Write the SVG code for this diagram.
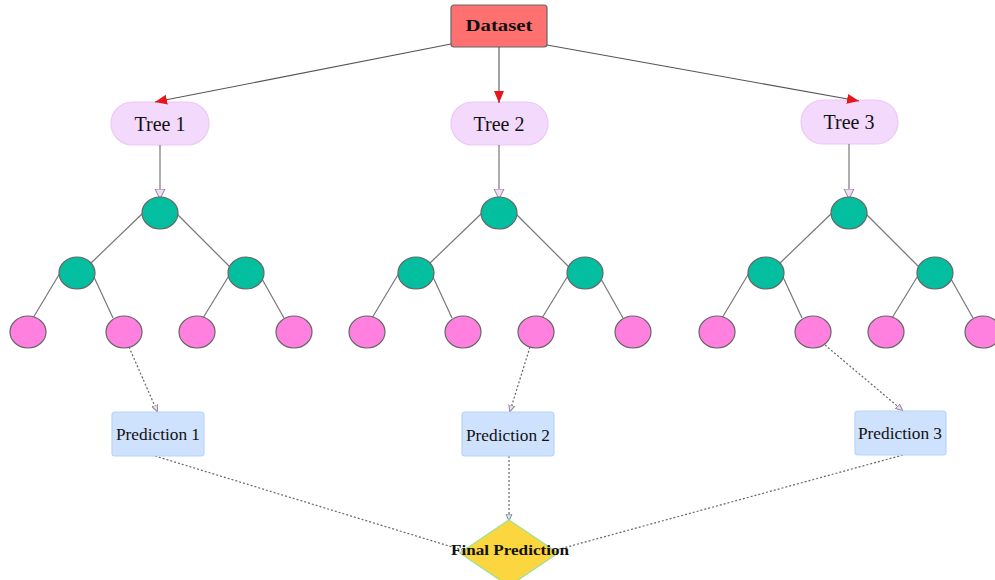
<svg xmlns="http://www.w3.org/2000/svg" width="995" height="580" viewBox="0 0 995 580">
<defs>
<style>
.tree rect{fill:#f3d9fb;stroke:#ecc8f6;stroke-width:1.2}
.inner{fill:#03bfa0;stroke:#666;stroke-width:1.2}
.leaf{fill:#ff80df;stroke:#666;stroke-width:1.2}
.pred rect{fill:#cfe2fd;stroke:#b7d4fa;stroke-width:1.2}
.lbl{font-family:"Liberation Serif",serif;fill:#111;text-anchor:middle}
.edge{stroke:#777;stroke-width:1.2;fill:none}
.main{stroke:#555;stroke-width:1.1;fill:none}
.dot{stroke:#666;stroke-width:1.2;fill:none;stroke-dasharray:2 2}
</style>
<marker id="red" markerWidth="14" markerHeight="12" refX="12" refY="6" orient="auto" markerUnits="userSpaceOnUse">
<path d="M0,1 L12,6 L0,11 Z" fill="#e8161a"/>
</marker>
<marker id="hollow" markerWidth="12" markerHeight="12" refX="10" refY="6" orient="auto" markerUnits="userSpaceOnUse">
<path d="M0,1 L10,6 L0,11 Z" fill="#f3d9fb" stroke="#888" stroke-width="1"/>
</marker>
<marker id="small" markerWidth="8" markerHeight="8" refX="6" refY="4" orient="auto" markerUnits="userSpaceOnUse">
<path d="M0,1 L7,4 L0,7 Z" fill="#f3d9fb" stroke="#888" stroke-width="1"/>
</marker>
<marker id="smallb" markerWidth="8" markerHeight="8" refX="6" refY="4" orient="auto" markerUnits="userSpaceOnUse">
<path d="M0,1 L7,4 L0,7 Z" fill="#cfe2fd" stroke="#888" stroke-width="1"/>
</marker>
</defs>
<rect width="995" height="580" fill="#fff"/>
<g id="dataset">
<rect x="451" y="5" width="96" height="42" rx="3" fill="#ff7070" stroke="#666" stroke-width="1.2"/>
<text class="lbl" x="499" y="31" font-size="16" font-weight="bold" textLength="67" lengthAdjust="spacingAndGlyphs">Dataset</text>
</g>
<g id="tree1" class="tree">
<rect x="111" y="102" width="98" height="43" rx="21.5"/>
<text class="lbl" x="160" y="131" font-size="20">Tree 1</text>
</g>
<g id="tree2" class="tree">
<rect x="451" y="102" width="97" height="43" rx="21.5"/>
<text class="lbl" x="499" y="131" font-size="20">Tree 2</text>
</g>
<g id="tree3" class="tree">
<rect x="801" y="100" width="97" height="44" rx="22"/>
<text class="lbl" x="849" y="129" font-size="20">Tree 3</text>
</g>
<g id="connectors">
<line class="main" x1="451" y1="44" x2="155" y2="102" marker-end="url(#red)"/>
<line class="main" x1="499" y1="47" x2="499" y2="103" marker-end="url(#red)"/>
<line class="main" x1="547" y1="45" x2="859" y2="101" marker-end="url(#red)"/>
<line class="edge" x1="160" y1="145" x2="160" y2="199" marker-end="url(#hollow)"/>
<line class="edge" x1="499" y1="145" x2="499" y2="199" marker-end="url(#hollow)"/>
<line class="edge" x1="849" y1="144" x2="849" y2="199" marker-end="url(#hollow)"/>
<g>
<line class="edge" x1="143" y1="213" x2="90" y2="264"/>
<line class="edge" x1="177" y1="214" x2="232" y2="269"/>
<line class="edge" x1="60" y1="273" x2="33" y2="318"/>
<line class="edge" x1="94" y1="277" x2="113" y2="318"/>
<line class="edge" x1="230" y1="274" x2="203" y2="318"/>
<line class="edge" x1="262" y1="279" x2="284" y2="318"/>
</g>
<g transform="translate(339,0)">
<line class="edge" x1="143" y1="213" x2="90" y2="264"/>
<line class="edge" x1="177" y1="214" x2="232" y2="269"/>
<line class="edge" x1="60" y1="273" x2="33" y2="318"/>
<line class="edge" x1="94" y1="277" x2="113" y2="318"/>
<line class="edge" x1="230" y1="274" x2="203" y2="318"/>
<line class="edge" x1="262" y1="279" x2="284" y2="318"/>
</g>
<g transform="translate(689,0)">
<line class="edge" x1="143" y1="213" x2="90" y2="264"/>
<line class="edge" x1="177" y1="214" x2="232" y2="269"/>
<line class="edge" x1="60" y1="273" x2="33" y2="318"/>
<line class="edge" x1="94" y1="277" x2="113" y2="318"/>
<line class="edge" x1="230" y1="274" x2="203" y2="318"/>
<line class="edge" x1="262" y1="279" x2="284" y2="318"/>
</g>
<line class="dot" x1="129" y1="347" x2="157" y2="411" marker-end="url(#small)"/>
<line class="dot" x1="530" y1="347" x2="510" y2="411" marker-end="url(#small)"/>
<line class="dot" x1="825" y1="345" x2="902" y2="410" marker-end="url(#small)"/>
<line class="dot" x1="155" y1="456" x2="462" y2="550"/>
<line class="dot" x1="903" y1="455" x2="556" y2="550"/>
<line class="dot" x1="509" y1="456" x2="509" y2="520" marker-end="url(#smallb)"/>
</g>
<g id="t1-root"><ellipse class="inner" cx="160" cy="213" rx="18" ry="16"/></g>
<g id="t1-l"><ellipse class="inner" cx="77" cy="273" rx="18" ry="16"/></g>
<g id="t1-r"><ellipse class="inner" cx="246" cy="273" rx="18" ry="16"/></g>
<g id="t1-ll"><ellipse class="leaf" cx="28" cy="332" rx="18" ry="16"/></g>
<g id="t1-lr"><ellipse class="leaf" cx="124" cy="332" rx="18" ry="16"/></g>
<g id="t1-rl"><ellipse class="leaf" cx="197" cy="332" rx="18" ry="16"/></g>
<g id="t1-rr"><ellipse class="leaf" cx="294" cy="332" rx="18" ry="16"/></g>
<g id="t2-root"><ellipse class="inner" cx="499" cy="213" rx="18" ry="16"/></g>
<g id="t2-l"><ellipse class="inner" cx="416" cy="273" rx="18" ry="16"/></g>
<g id="t2-r"><ellipse class="inner" cx="585" cy="273" rx="18" ry="16"/></g>
<g id="t2-ll"><ellipse class="leaf" cx="367" cy="332" rx="18" ry="16"/></g>
<g id="t2-lr"><ellipse class="leaf" cx="463" cy="332" rx="18" ry="16"/></g>
<g id="t2-rl"><ellipse class="leaf" cx="536" cy="332" rx="18" ry="16"/></g>
<g id="t2-rr"><ellipse class="leaf" cx="633" cy="332" rx="18" ry="16"/></g>
<g id="t3-root"><ellipse class="inner" cx="849" cy="213" rx="18" ry="16"/></g>
<g id="t3-l"><ellipse class="inner" cx="766" cy="273" rx="18" ry="16"/></g>
<g id="t3-r"><ellipse class="inner" cx="935" cy="273" rx="18" ry="16"/></g>
<g id="t3-ll"><ellipse class="leaf" cx="717" cy="332" rx="18" ry="16"/></g>
<g id="t3-lr"><ellipse class="leaf" cx="813" cy="332" rx="18" ry="16"/></g>
<g id="t3-rl"><ellipse class="leaf" cx="886" cy="332" rx="18" ry="16"/></g>
<g id="t3-rr"><ellipse class="leaf" cx="983" cy="332" rx="18" ry="16"/></g>
<g id="pred1" class="pred">
<rect x="112" y="412" width="92" height="44" rx="3"/>
<text class="lbl" x="158" y="440" font-size="16" textLength="84" lengthAdjust="spacingAndGlyphs">Prediction 1</text>
</g>
<g id="pred2" class="pred">
<rect x="462" y="412" width="92" height="44" rx="3"/>
<text class="lbl" x="508" y="441" font-size="16" textLength="84" lengthAdjust="spacingAndGlyphs">Prediction 2</text>
</g>
<g id="pred3" class="pred">
<rect x="855" y="411" width="91" height="44" rx="3"/>
<text class="lbl" x="900" y="439" font-size="16" textLength="84" lengthAdjust="spacingAndGlyphs">Prediction 3</text>
</g>
<g id="final">
<polygon points="509,520 558,553 509,586 460,553" fill="#fcd63e" stroke="#a8e08f" stroke-width="1.5"/>
<text class="lbl" x="510" y="555" font-size="15" font-weight="bold" textLength="118" lengthAdjust="spacingAndGlyphs">Final Prediction</text>
</g>
</svg>
